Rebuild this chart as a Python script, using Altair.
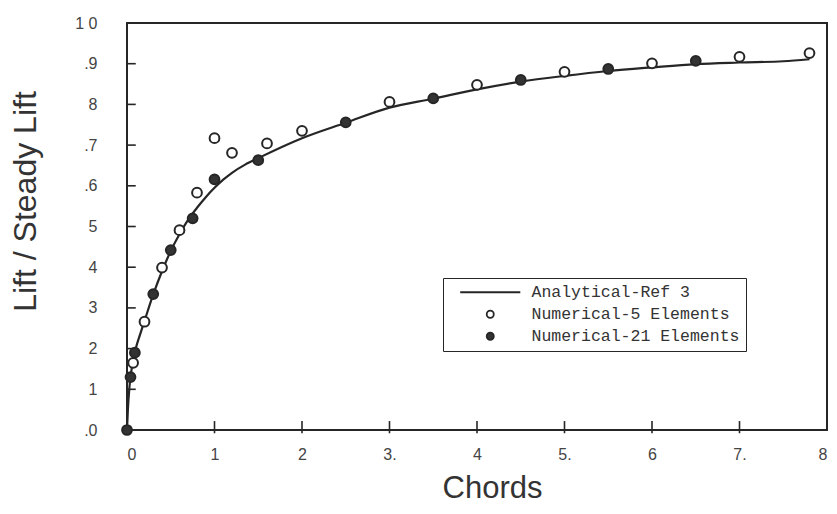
import altair as alt
import pandas as pd

# Analytical curve (Ref 3)
curve_x = [0, 0.01, 0.03, 0.06, 0.1, 0.15, 0.2, 0.3, 0.4, 0.5, 0.6, 0.7, 0.8, 0.9, 1.0, 1.1, 1.2,
           1.35, 1.5, 2.0, 2.5, 3.0, 3.5, 4.0, 4.5, 5.0, 5.5, 6.0, 6.5, 7.0, 7.5, 7.8]
curve_y = [0, 0.05, 0.11, 0.16, 0.2, 0.235, 0.268, 0.333, 0.39, 0.44, 0.481, 0.517, 0.546, 0.572, 0.595,
           0.615, 0.632, 0.652, 0.668, 0.717, 0.755, 0.792, 0.814, 0.837, 0.856, 0.87, 0.882, 0.891,
           0.899, 0.903, 0.906, 0.911]

# Numerical - 5 elements (open circles)
five_x = [0.07, 0.2, 0.4, 0.6, 0.8, 1.0, 1.2, 1.6, 2.0, 3.0, 4.0, 5.0, 6.0, 7.0, 7.8]
five_y = [0.165, 0.266, 0.399, 0.491, 0.583, 0.717, 0.681, 0.704, 0.735, 0.806, 0.848, 0.88, 0.901, 0.917, 0.926]

# Numerical - 21 elements (filled circles)
tw1_x = [0.0, 0.04, 0.09, 0.3, 0.5, 0.75, 1.0, 1.5, 2.5, 3.5, 4.5, 5.5, 6.5]
tw1_y = [0.0, 0.13, 0.19, 0.334, 0.442, 0.52, 0.616, 0.663, 0.756, 0.815, 0.86, 0.887, 0.907]

series_names = ["Analytical-Ref 3", "Numerical-5 Elements", "Numerical-21 Elements"]

x_tick_values = [0, 1, 2, 3, 4, 5, 6, 7, 8]
x_tick_labels = ["0", "1", "2", "3.", "4", "5.", "6", "7.", "8"]
y_tick_values = [0.0, 0.1, 0.2, 0.3, 0.4, 0.5, 0.6, 0.7, 0.8, 0.9, 1.0]
y_tick_labels = [".0", "1", "2", "3", "4", "5", ".6", ".7", "8", ".9", "1 0"]
x_inner_ticks = [1, 2, 3, 4, 5, 6, 7]
y_inner_ticks = [0.1, 0.2, 0.3, 0.4, 0.5, 0.6, 0.7, 0.8, 0.9]

curve_df = pd.DataFrame({"x": curve_x, "y": curve_y})
pts_df = pd.concat([
    pd.DataFrame({"x": five_x, "y": five_y, "series": series_names[1]}),
    pd.DataFrame({"x": tw1_x, "y": tw1_y, "series": series_names[2]}),
], ignore_index=True)
xt_df = pd.DataFrame({"x": x_inner_ticks})
yt_df = pd.DataFrame({"y": y_inner_ticks})

INK = "#262626"

xs = alt.Scale(domain=[0, 8], nice=False, zero=False)
ys = alt.Scale(domain=[0, 1], nice=False, zero=False)

x_lab_expr = "[" + ",".join('"%s"' % s for s in x_tick_labels) + "][round(datum.value)]"
y_lab_expr = "[" + ",".join('"%s"' % s for s in y_tick_labels) + "][round(datum.value*10)]"

x_axis = alt.Axis(values=x_tick_values, labelExpr=x_lab_expr, ticks=False, tickSize=0,
                  domain=False, grid=False, labelPadding=16, labelFont="Liberation Sans",
                  labelFontSize=16, labelColor="#444", title="Chords",
                  titleFont="Liberation Sans", titleFontSize=31, titleFontWeight="normal",
                  titleColor="#333", titleX=365, titleY=58, titleAlign="center",
                  titleBaseline="middle")
y_axis = alt.Axis(values=y_tick_values, labelExpr=y_lab_expr, ticks=False, tickSize=0,
                  domain=False, grid=False, labelPadding=30, labelFont="Liberation Sans",
                  labelFontSize=16, labelColor="#444", title="Lift / Steady Lift",
                  titleFont="Liberation Sans", titleFontSize=32, titleFontWeight="normal",
                  titleColor="#333", titleX=-102, titleY=178, titleAlign="center",
                  titleBaseline="middle")

base_x = lambda f: alt.X(f, type="quantitative", scale=xs, axis=x_axis)
base_y = lambda f: alt.Y(f, type="quantitative", scale=ys, axis=y_axis)

xticks = alt.Chart(xt_df).mark_rule(color=INK, strokeWidth=1.6).encode(
    x=base_x("x"),
    y=alt.YDatum(-0.008, scale=ys, axis=y_axis),
    y2=alt.Y2Datum(0.022),
)
yticks = alt.Chart(yt_df).mark_rule(color=INK, strokeWidth=1.6).encode(
    y=base_y("y"),
    x=alt.XDatum(0, scale=xs, axis=x_axis),
    x2=alt.X2Datum(0.1),
)

line = alt.Chart(curve_df).mark_line(color=INK, strokeWidth=2.2, interpolate="monotone").encode(
    x=base_x("x"),
    y=base_y("y"),
)

legend = alt.Legend(title=None, orient="none", legendX=316, legendY=255,
                    strokeColor=INK, padding=6, rowPadding=5,
                    symbolSize=50, symbolStrokeWidth=1.8, symbolOffset=33,
                    labelOffset=33, labelLimit=400, labelFont="Liberation Mono",
                    labelFontSize=16.5, labelColor="#333", fillColor="white")

points = alt.Chart(pts_df).mark_point(filled=True, size=95, strokeWidth=2, opacity=1).encode(
    x=base_x("x"),
    y=base_y("y"),
    fill=alt.Fill("series:N", scale=alt.Scale(domain=series_names,
                                              range=[INK, "white", "#333333"]), legend=legend),
    stroke=alt.Stroke("series:N", scale=alt.Scale(domain=series_names,
                                                  range=[INK, INK, INK]), legend=legend),
    shape=alt.Shape("series:N", scale=alt.Scale(domain=series_names,
                                                range=["M-8.5,0H8.5", "circle", "circle"]),
                    legend=legend),
)

chart = alt.layer(xticks, yticks, line, points).properties(
    width=700,
    height=407,
    autosize=alt.AutoSizeParams(type="none"),
    padding={"left": 119, "top": 15, "right": 2, "bottom": 76},
    background="white",
).configure_view(stroke=INK, strokeWidth=2)

chart.save("out.html", embed_options={"renderer": "svg", "actions": False})
